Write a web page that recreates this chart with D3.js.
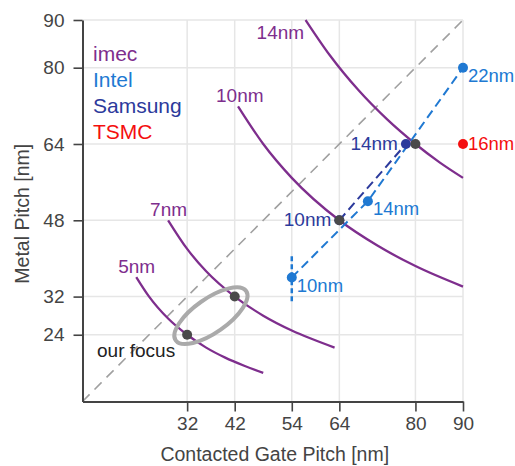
<!DOCTYPE html>
<html><head><meta charset="utf-8">
<script src="https://cdn.jsdelivr.net/npm/d3@7"></script>
<style>body{margin:0;background:#fff} svg{display:block} text{font-family:"Liberation Sans",Arial,sans-serif}</style>
</head><body><svg id="c" width="515" height="466"></svg>
<script>
// ---- data ----
const xTicks = [32, 42, 54, 64, 80, 90];
const yTicks = [24, 32, 48, 64, 80, 90];
const curveNames = ["5nm", "7nm", "10nm", "14nm"];
const curve5nm  = [[21.3,36.1],[24,32.0],[28,27.4],[32,24.0],[36,21.3],[40,19.2],[44,17.5],[48,16.0]];
const curve7nm  = [[28,48.0],[32,42.0],[36,37.3],[42,32.0],[48,28.0],[54,24.9],[58,23.2],[63,21.3]];
const curve10nm = [[42.7,71.9],[48,64.0],[54,56.9],[64,48.0],[72,42.7],[80,38.4],[90,34.1]];
const curve14nm = [[56.9,90.0],[62,82.6],[68,75.3],[74,69.2],[80,64.0],[85,60.2],[90,56.9]];
const diagonal = [[10,10],[90,90]];
const imecPts = [[32,24],[42,32],[64,48],[80,64]];
const intelNames = ["10nm","14nm","22nm"];
const intelPts = [[54,36],[70,52],[90,80]];
const intelRange = [[54,31],[54,41]];
const samsungNames = ["10nm","14nm"];
const samsungPts = [[64,48],[78,64]];
const tsmcNames = ["16nm"];
const tsmcPts = [[90,64]];
const focusCenter = [37, 28];
const legendNames = ["imec","Intel","Samsung","TSMC"];

// ---- styles ----
const C = {imec:"#7e2e8d", intel:"#2079d2", samsung:"#2c3a9c", tsmc:"#f40f0f", dot:"#4a4a4a", grid:"#e6e6e6", axis:"#444"};

const svg = d3.select("#c");
const x = d3.scaleLinear().domain([10,90]).range([82.5,463]);
const y = d3.scaleLinear().domain([10,90]).range([401.5,20]);

// grid
const g = svg.append("g");
g.selectAll(".gx").data(xTicks).join("line")
  .attr("x1",d=>x(d)).attr("x2",d=>x(d)).attr("y1",y(10)).attr("y2",y(90))
  .attr("stroke",C.grid).attr("stroke-width",1.5);
g.selectAll(".gy").data(yTicks).join("line")
  .attr("y1",d=>y(d)).attr("y2",d=>y(d)).attr("x1",x(10)).attr("x2",x(90))
  .attr("stroke",C.grid).attr("stroke-width",1.5);

// diagonal
const line = d3.line().x(d=>x(d[0])).y(d=>y(d[1]));
svg.append("path").attr("d",line(diagonal)).attr("fill","none")
  .attr("stroke","#a0a0a0").attr("stroke-width",1.6).attr("stroke-dasharray","10,7");

// curves
const smooth = d3.line().x(d=>x(d[0])).y(d=>y(d[1])).curve(d3.curveMonotoneX);
const curves = [curve5nm, curve7nm, curve10nm, curve14nm];
const labelOff = [[-18,-4],[-18,-4],[-22,-4],[-49,19]];
curves.forEach((c,i)=>{
  svg.append("path").attr("d",smooth(c)).attr("fill","none")
    .attr("stroke",C.imec).attr("stroke-width",2.3);
  svg.append("text").attr("x",x(c[0][0])+labelOff[i][0]).attr("y",y(c[0][1])+labelOff[i][1])
    .attr("fill",C.imec).attr("font-size",19).text(curveNames[i]);
});

// axes
const ax = svg.append("g").attr("transform",`translate(0,${y(10)})`)
  .call(d3.axisBottom(x).tickValues(xTicks).tickSize(10).tickPadding(5).tickSizeOuter(0));
const ay = svg.append("g").attr("transform",`translate(${x(10)},0)`)
  .call(d3.axisLeft(y).tickValues(yTicks).tickSize(9).tickPadding(9).tickSizeOuter(0));
[ax,ay].forEach(a=>{
  a.select(".domain").attr("stroke",C.axis).attr("stroke-width",2);
  a.selectAll(".tick line").attr("stroke",C.axis).attr("stroke-width",1.6);
  a.selectAll(".tick text").attr("fill","#444").attr("font-size",19)
    .attr("font-family",'"Liberation Sans",Arial,sans-serif');
});
svg.append("text").attr("x",(x(10)+x(90))/2+2).attr("y",461).attr("text-anchor","middle")
  .attr("fill","#444").attr("font-size",19.5).text("Contacted Gate Pitch [nm]");
svg.append("text").attr("transform",`translate(29,${(y(10)+y(90))/2+3}) rotate(-90)`)
  .attr("text-anchor","middle").attr("fill","#444").attr("font-size",19.5).text("Metal Pitch [nm]");

// Intel dashed lines
svg.append("path").attr("d",line(intelPts)).attr("fill","none")
  .attr("stroke",C.intel).attr("stroke-width",2).attr("stroke-dasharray","9,5");
svg.append("path").attr("d",line(intelRange)).attr("fill","none")
  .attr("stroke",C.intel).attr("stroke-width",2.5).attr("stroke-dasharray","5,3");
// Samsung dashed line
svg.append("path").attr("d",line(samsungPts)).attr("fill","none")
  .attr("stroke",C.samsung).attr("stroke-width",2).attr("stroke-dasharray","9,5");

// focus ellipse
svg.append("ellipse").attr("cx",x(focusCenter[0])).attr("cy",y(focusCenter[1]))
  .attr("rx",43).attr("ry",17)
  .attr("transform",`rotate(-35,${x(focusCenter[0])},${y(focusCenter[1])})`)
  .attr("fill","none").attr("stroke","#aaaaaa").attr("stroke-width",4);

// dots
function dots(pts,color){
  svg.append("g").selectAll("circle").data(pts).join("circle")
    .attr("cx",d=>x(d[0])).attr("cy",d=>y(d[1])).attr("r",5).attr("fill",color);
}
dots(samsungPts,C.samsung);
dots(imecPts,C.dot);
dots(intelPts,C.intel);
dots(tsmcPts,C.tsmc);

// point labels
intelPts.forEach((p,i)=>{
  svg.append("text").attr("x",x(p[0])+5).attr("y",y(p[1])+14).attr("fill",C.intel)
    .attr("font-size",18.5).text(intelNames[i]);
});
samsungPts.forEach((p,i)=>{
  svg.append("text").attr("x",x(p[0])-8).attr("y",y(p[1])+6).attr("text-anchor","end")
    .attr("fill",C.samsung).attr("font-size",19).text(samsungNames[i]);
});
tsmcPts.forEach((p,i)=>{
  svg.append("text").attr("x",x(p[0])+5).attr("y",y(p[1])+6).attr("fill",C.tsmc)
    .attr("font-size",18.5).text(tsmcNames[i]);
});
svg.append("text").attr("x",97).attr("y",357).attr("fill","#222").attr("font-size",19).text("our focus");

// legend
const lc = [C.imec, C.intel, C.samsung, C.tsmc];
legendNames.forEach((n,i)=>{
  svg.append("text").attr("x",93).attr("y",61+i*26).attr("fill",lc[i]).attr("font-size",21).text(n);
});
</script></body></html>
